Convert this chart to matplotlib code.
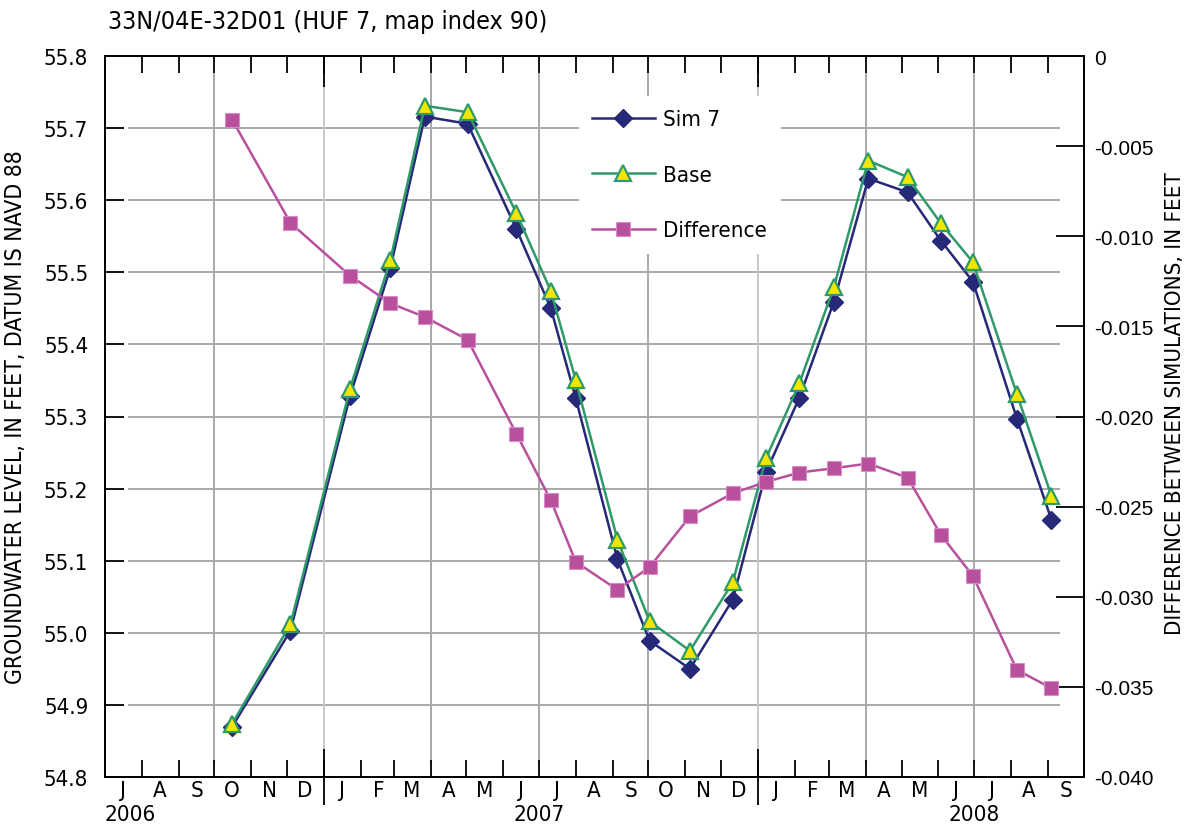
import matplotlib
matplotlib.use('Agg')
import matplotlib.pyplot as plt
import matplotlib.dates as mdates
from matplotlib import font_manager
import numpy as np
import datetime as dt

# narrow face for labels if one is installed
narrow = [f.name for f in font_manager.fontManager.ttflist
          if 'Narrow' in f.name or 'Condensed' in f.name or f.stretch in ('condensed', 'semi-condensed')]
plt.rcParams['font.family'] = (narrow[:1] or []) + ['DejaVu Sans']
plt.rcParams['font.stretch'] = 'condensed'
plt.rcParams['axes.unicode_minus'] = False

# simulated water levels, 33N/04E-32D01
dates = ['2006-10-16', '2006-12-04', '2007-01-23', '2007-02-26', '2007-03-27',
         '2007-05-02', '2007-06-12', '2007-07-11', '2007-08-01', '2007-09-05',
         '2007-10-02', '2007-11-05', '2007-12-11', '2008-01-08', '2008-02-05',
         '2008-03-05', '2008-04-03', '2008-05-06', '2008-06-03', '2008-06-30',
         '2008-08-06', '2008-09-04']
sim7 = [54.870, 55.003, 55.328, 55.506, 55.716, 55.706, 55.560, 55.450, 55.325,
        55.102, 54.989, 54.950, 55.046, 55.223, 55.326, 55.459, 55.630, 55.611,
        55.544, 55.487, 55.297, 55.157]
base = [54.874, 55.012, 55.338, 55.517, 55.731, 55.722, 55.582, 55.474, 55.350,
        55.129, 55.016, 54.975, 55.070, 55.242, 55.346, 55.479, 55.655, 55.632,
        55.568, 55.514, 55.331, 55.190]
difference = [-0.00354, -0.00926, -0.01218, -0.01372, -0.01448, -0.01574, -0.02096,
              -0.02465, -0.02807, -0.02961, -0.02836, -0.02554, -0.02426, -0.02363,
              -0.02311, -0.02287, -0.02261, -0.02339, -0.02656, -0.02885, -0.03406,
              -0.03507]
years = ['2006', '2007', '2008']

x = [dt.datetime.strptime(d, '%Y-%m-%d') for d in dates]
start, end = dt.datetime(2006, 7, 1), dt.datetime(2008, 10, 1)

fig = plt.figure(figsize=(11.93, 8.29), dpi=100)
W, H = 1193, 829
ax = fig.add_axes([105 / W, 1 - 778 / H, (1083.5 - 105) / W, (778 - 57) / H])
ax2 = ax.twinx()

navy = '#262878'
green = '#2e9a6a'
yellow = '#f2e600'
magenta = '#b8509e'
grid_c = '#a8a8a8'

ax.set_xlim(start, end)
ax.set_ylim(54.8, 55.8)
ax2.set_ylim(-0.040, 0.0)

# grid: horizontal every 0.1 ft, vertical every quarter
for v in np.arange(54.9, 55.75, 0.1):
    ax.axhline(v, xmin=0.025, xmax=0.975, color=grid_c, lw=1.4, zorder=0)
for q in ['2006-10-01', '2007-04-01', '2007-07-01', '2007-10-01', '2008-04-01', '2008-07-01']:
    ax.axvline(dt.datetime.strptime(q, '%Y-%m-%d'), ymin=0.02, ymax=0.975,
               color=grid_c, lw=1.4, zorder=0)
for q in ['2007-01-01', '2008-01-01']:
    ax.axvline(dt.datetime.strptime(q, '%Y-%m-%d'), ymin=0.035, ymax=0.96,
               color='#c8c8c8', lw=1.4, zorder=0)

l1, = ax.plot(x, sim7, color=navy, lw=1.8, marker='D', ms=9, mfc=navy, mec=navy,
              label='Sim 7', zorder=3)
l2, = ax.plot(x, base, color=green, lw=1.8, marker='^', ms=11, mfc=yellow, mec=green,
              mew=1.6, label='Base', zorder=4)
l3, = ax2.plot(x, difference, color=magenta, lw=1.8, marker='s', ms=9.5, mfc=magenta,
               mec='#d68cc4', mew=0.8, label='Difference', zorder=3)

# x axis: month ticks inside, letters centred in each month
ax.xaxis.set_minor_locator(mdates.MonthLocator())
ax.xaxis.set_major_locator(mdates.MonthLocator(bymonthday=16))
ax.xaxis.set_major_formatter(plt.FuncFormatter(lambda v, p: mdates.num2date(v).strftime('%b')[0]))
ax.tick_params(axis='x', which='major', length=0, pad=2, labelsize=16)
ax.tick_params(axis='x', which='minor', direction='in', length=12, width=1.3,
               top=True, bottom=True)

# year boundaries
yb = ax.secondary_xaxis('bottom')
yb.xaxis.set_major_locator(mdates.YearLocator())
yb.tick_params(direction='inout', length=40, width=1.3, labelbottom=False)
yb.spines['bottom'].set_visible(False)
yt = ax.secondary_xaxis('top')
yt.xaxis.set_major_locator(mdates.YearLocator())
yt.tick_params(direction='in', length=22, width=1.3, labeltop=False)
yt.spines['top'].set_visible(False)

ax.text(start, -0.037, years[0], transform=ax.get_xaxis_transform(), ha='left',
        va='top', fontsize=16)
for yr in years[1:]:
    ax.text(dt.datetime(int(yr), 7, 1), -0.037, yr, transform=ax.get_xaxis_transform(),
            ha='center', va='top', fontsize=16)

ax.set_yticks(np.arange(54.8, 55.85, 0.1))
ax.yaxis.set_major_formatter(plt.FormatStrFormatter('%.1f'))
ax.tick_params(axis='y', direction='in', length=14, width=1.3, labelsize=16, pad=12)

ax2.set_yticks(np.arange(-0.040, 0.001, 0.005))
ax2.set_yticklabels(['-0.040', '-0.035', '-0.030', '-0.025', '-0.020', '-0.015',
                     '-0.010', '-0.005', '0'],
                    fontfamily='Liberation Sans', fontstretch='normal', fontsize=15)
ax2.tick_params(axis='y', direction='in', length=20, width=1.3, pad=8)

for a in (ax, ax2):
    for s in a.spines.values():
        s.set_linewidth(1.3)

ax.set_ylabel('GROUNDWATER LEVEL, IN FEET, DATUM IS NAVD 88', fontsize=16.5, labelpad=12)
ax2.set_ylabel('DIFFERENCE BETWEEN SIMULATIONS, IN FEET', fontsize=16, labelpad=8, y=0.52)
fig.text(108 / W, 1 - 22 / H, '33N/04E-32D01 (HUF 7, map index 90)', fontsize=18,
         ha='left', va='center')

leg = ax2.legend(handles=[l1, l2, l3], loc='upper left',
                 bbox_to_anchor=(579 / W, 1 - 97 / H), bbox_transform=fig.transFigure,
                 fontsize=16, frameon=True, facecolor='white', edgecolor='none',
                 framealpha=1, fancybox=False, handlelength=2.8, labelspacing=1.6,
                 borderpad=0.6, handletextpad=0.4, borderaxespad=0)

fig.savefig('out.png', dpi=100)
